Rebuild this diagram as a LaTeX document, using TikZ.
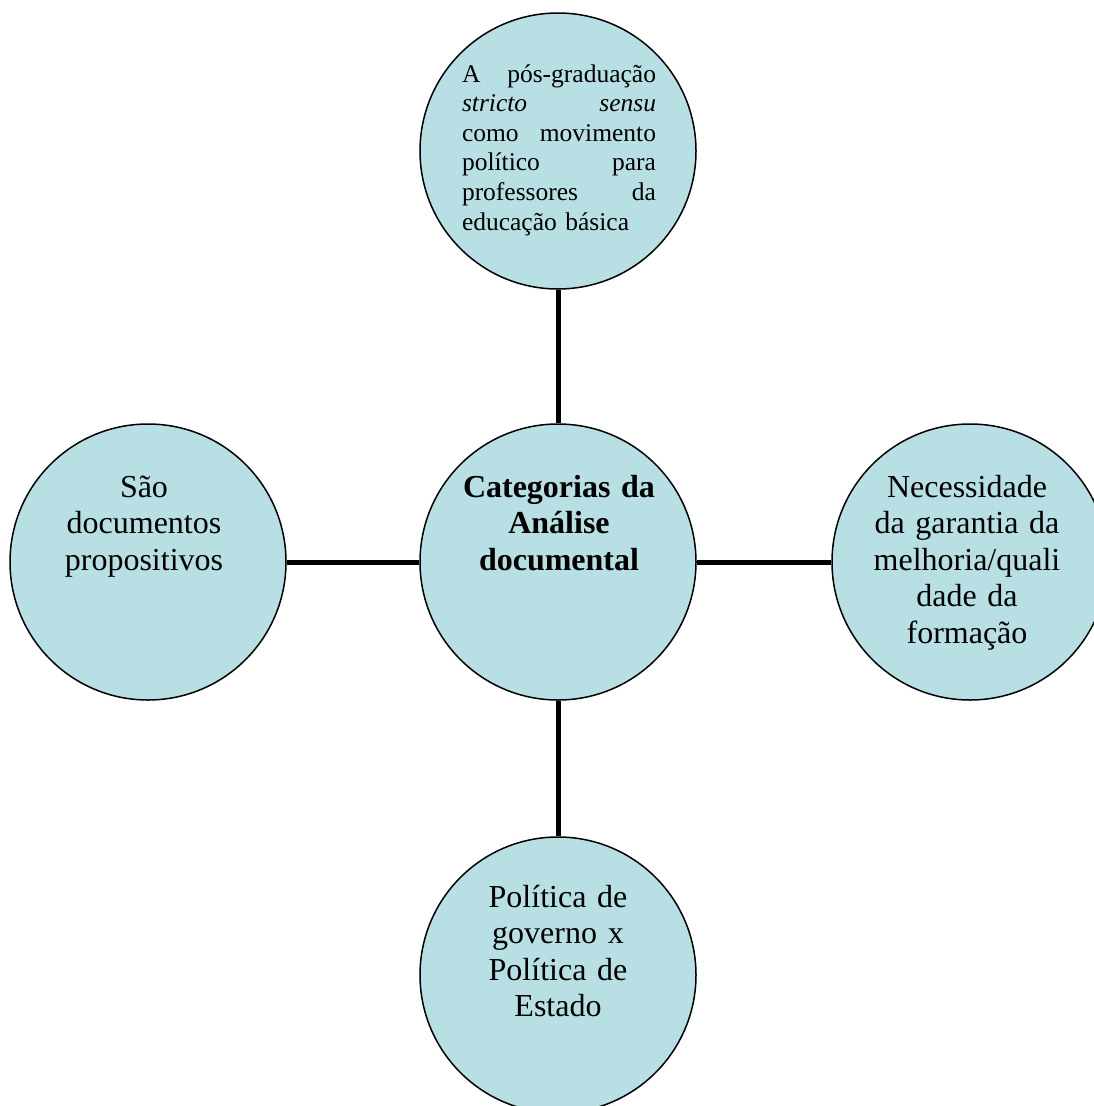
\documentclass[tikz,border=0pt]{standalone}
\usepackage{fontspec}
\setmainfont{Liberation Serif}
\definecolor{azul}{RGB}{184,223,228}

\begin{document}
\begin{tikzpicture}[x=1pt,y=1pt,
  bolha/.style={circle,draw = black,line width=1.5pt,fill=azul,minimum size=276pt,inner sep=0pt},
  texto/.style={anchor=base,inner sep=0pt,text width=200pt,align=center,font=\fontsize{32}{36.6}\selectfont},
  liga/.style={line width=5pt}]
\useasboundingbox (0,0) rectangle (1094,-1106);
\clip (0,0) rectangle (1094,-1106);
\node[bolha](v1)at(558,-562){};
\node[bolha](v2) at (558,-151){};
\node[bolha](v3) at(970,-562){};
\node[bolha](v4) at(558,-975){};
\node[bolha](v5) at(148,-562){};
\draw[liga](v1)--(v2);
\draw[liga](v1)--(v3);
\draw[liga](v1)--(v4);
\draw[liga](v1)--(v5);
\node[texto,font=\fontsize{32}{36.6}\selectfont\bfseries](l1) at(559,-497){Categorias da\\ Análise\\ documental};
\node[texto,text width=194pt,align=left,font=\fontsize{25.5}{29.6}\selectfont](l2) at(559,-82){A\hfill pós-graduação\\ \textit{stricto}\hfill\textit{sensu}\\ como\hfill movimento\\ político\hfill para\\ professores\hfill da\\ educação básica};
\node[texto](l3) at(967,-497){Necessidade\\ da garantia da\\ melhoria/quali\\ dade da\\ formação};
\node[texto](l4) at(558,-907){Política de\\ governo x\\ Política de\\ Estado};
\node[texto](l5) at(144,-497){São\\ documentos\\ propositivos};
\end{tikzpicture}
\end{document}
